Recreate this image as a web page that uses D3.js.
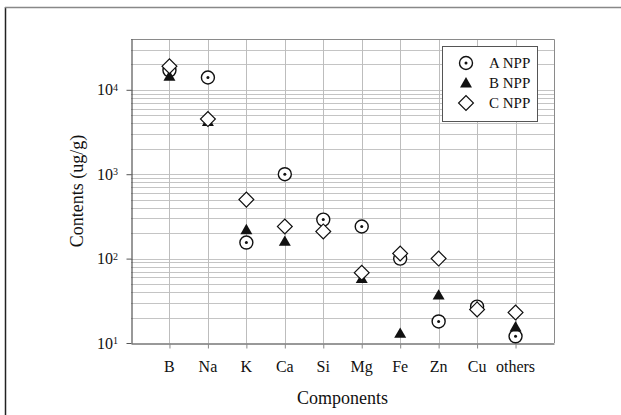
<!DOCTYPE html>
<html lang="en">
<head>
    <meta charset="UTF-8">
    <title>Contents by component</title>
    <script src="https://d3js.org/d3.v7.min.js"></script>
    <style>
        body { margin: 0; background: #fff; }
    </style>
</head>
<body>
    <div id="chart"></div>
    <script>
        // Data (ug/g)
        const components = ["B", "Na", "K", "Ca", "Si", "Mg", "Fe", "Zn", "Cu", "others"];
        const aNPP = [17000, 14000, 155, 1000, 290, 240, 100, 18, 27, 12];
        const bNPP = [14500, 4200, 220, 160, null, 58, 13, 37, 27, 15.5];
        const cNPP = [19000, 4500, 500, 240, 210, 68, 115, 100, 25, 23];
        const seriesNames = ["A NPP", "B NPP", "C NPP"];

        const W = 621, H = 415;
        const plot = {left: 131, right: 554, top: 39, bottom: 343};
        const serif = "'Liberation Serif', 'DejaVu Serif', serif";

        const svg = d3.select("#chart").append("svg")
            .attr("width", W)
            .attr("height", H)
            .attr("font-family", serif)
            .style("font-family", serif);

        // outer frame (left + top only)
        svg.append("line").attr("x1", 5.5).attr("x2", 5.5).attr("y1", 7).attr("y2", H)
            .attr("stroke", "#222").attr("stroke-width", 1.5);
        svg.append("line").attr("x1", 5).attr("x2", W).attr("y1", 7.5).attr("y2", 7.5)
            .attr("stroke", "#888").attr("stroke-width", 1.5);

        const x = d3.scalePoint()
            .domain(components)
            .range([plot.left, plot.right])
            .padding(1);

        const y = d3.scaleLog()
            .domain([10, 40000])
            .range([plot.bottom, plot.top]);

        // horizontal grid (all log ticks)
        const gridVals = [];
        for (let e = 1; e <= 4; e++) {
            for (let m = 1; m <= 9; m++) {
                const v = m * Math.pow(10, e);
                if (v > 10 && v < 40000) gridVals.push(v);
            }
        }
        svg.append("g")
            .selectAll("line")
            .data(gridVals)
            .join("line")
            .attr("x1", plot.left).attr("x2", plot.right)
            .attr("y1", d => Math.round(y(d)) + 0.5)
            .attr("y2", d => Math.round(y(d)) + 0.5)
            .attr("stroke", "#c4c4c4");

        // vertical grid
        svg.append("g")
            .selectAll("line")
            .data(components)
            .join("line")
            .attr("x1", d => Math.round(x(d)) + 0.5)
            .attr("x2", d => Math.round(x(d)) + 0.5)
            .attr("y1", plot.top).attr("y2", plot.bottom)
            .attr("stroke", "#bdbdbd");

        // top & right border
        svg.append("path")
            .attr("d", `M${plot.left},${plot.top + 0.5}H${plot.right + 0.5}V${plot.bottom}`)
            .attr("fill", "none")
            .attr("stroke", "#8a8a8a");

        // x axis
        const xAxis = svg.append("g")
            .attr("transform", `translate(0,${plot.bottom + 0.5})`)
            .call(d3.axisBottom(x).tickSize(5).tickSizeOuter(0).tickFormat(""));
        xAxis.select(".domain").attr("stroke", "#333");
        xAxis.selectAll(".tick line").attr("stroke", "#888");

        svg.append("g")
            .selectAll("text")
            .data(components)
            .join("text")
            .attr("x", d => x(d))
            .attr("y", 366)
            .attr("dy", "0.35em")
            .attr("text-anchor", "middle")
            .attr("fill", "#111")
            .style("font-family", serif)
            .style("font-size", "16px")
            .text(d => d);

        // y axis
        const yTicks = [10, 100, 1000, 10000];
        const yAxis = svg.append("g")
            .attr("transform", `translate(${plot.left + 0.5},0)`)
            .call(d3.axisLeft(y).tickValues(yTicks).tickSize(5).tickSizeOuter(0).tickFormat(""));
        yAxis.select(".domain").attr("stroke", "#333");
        yAxis.selectAll(".tick line").attr("stroke", "#555");

        const yLab = svg.append("g")
            .selectAll("text")
            .data(yTicks)
            .join("text")
            .attr("x", 118)
            .attr("y", d => y(d))
            .attr("dy", "0.35em")
            .attr("text-anchor", "end")
            .attr("fill", "#111")
            .style("font-family", serif)
            .style("font-size", "16px");
        yLab.append("tspan").text("10");
        yLab.append("tspan")
            .attr("dy", "-0.45em")
            .style("font-size", "10px")
            .text(d => Math.round(Math.log10(d)));

        // axis titles
        svg.append("text")
            .attr("x", (plot.left + plot.right) / 2)
            .attr("y", 398)
            .attr("dy", "0.35em")
            .attr("text-anchor", "middle")
            .attr("fill", "#111")
            .style("font-family", serif)
            .style("font-size", "18px")
            .text("Components");

        svg.append("text")
            .attr("transform", `translate(77,${(plot.top + plot.bottom) / 2}) rotate(-90)`)
            .attr("dy", "0.35em")
            .attr("text-anchor", "middle")
            .attr("fill", "#111")
            .style("font-family", serif)
            .style("font-size", "18px")
            .text("Contents (ug/g)");

        // marker drawers
        const tri = d3.symbol().type(d3.symbolTriangle).size(62);
        const sq = d3.symbol().type(d3.symbolSquare).size(110);

        function drawCircle(g) {
            g.append("circle").attr("r", 6.5)
                .attr("fill", "#fff").attr("stroke", "#111").attr("stroke-width", 1.4);
            g.append("circle").attr("r", 1.5).attr("fill", "#111");
        }
        function drawTriangle(g) {
            g.append("path").attr("d", tri()).attr("fill", "#111")
                .attr("transform", "translate(0,1)");
        }
        function drawDiamond(g) {
            g.append("path").attr("d", sq()).attr("transform", "rotate(45)")
                .attr("fill", "#fff").attr("stroke", "#111").attr("stroke-width", 1.2);
        }
        const drawers = [drawCircle, drawTriangle, drawDiamond];

        [aNPP, bNPP, cNPP].forEach((vals, i) => {
            const pts = components.map((c, j) => ({c: c, v: vals[j]})).filter(d => d.v != null);
            svg.append("g")
                .selectAll("g")
                .data(pts)
                .join("g")
                .attr("transform", d => `translate(${x(d.c)},${y(d.v)})`)
                .each(function() { drawers[i](d3.select(this)); });
        });

        // legend
        const legend = svg.append("g");
        legend.append("rect")
            .attr("x", 442.5).attr("y", 46.5)
            .attr("width", 95).attr("height", 75)
            .attr("fill", "#fff").attr("stroke", "#555");
        seriesNames.forEach((name, i) => {
            const row = legend.append("g").attr("transform", `translate(466,${63 + i * 20})`);
            drawers[i](row);
            legend.append("text")
                .attr("x", 489)
                .attr("y", 63 + i * 20)
                .attr("dy", "0.35em")
                .attr("fill", "#111")
                .style("font-family", serif)
                .style("font-size", "15px")
                .text(name);
        });
    </script>
</body>
</html>
